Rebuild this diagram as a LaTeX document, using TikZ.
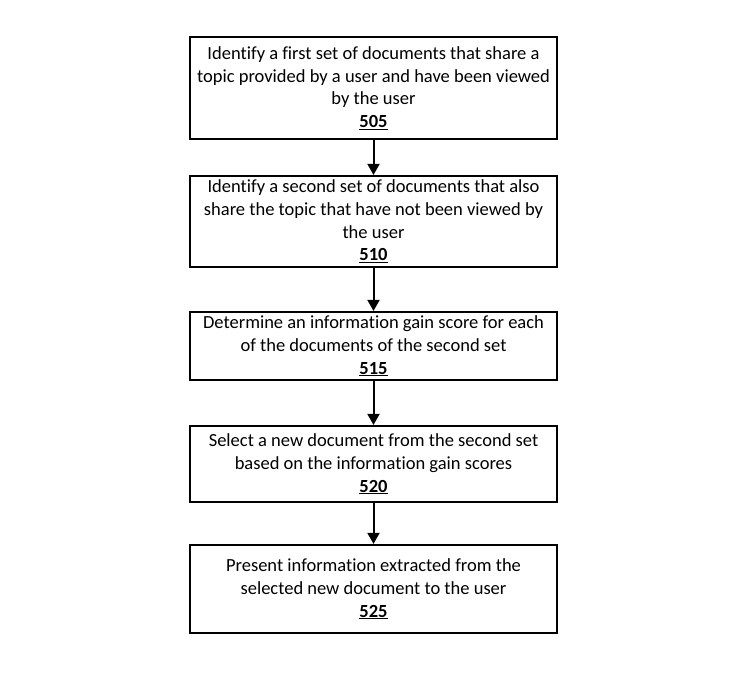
\documentclass[tikz,border=0pt]{standalone}
\usepackage{fontspec}
\setmainfont[Ligatures=NoCommon]{Carlito}
\usetikzlibrary{positioning}
\usetikzlibrary{arrows.meta}

\tikzset{stepbox/.style={draw,line width=2.2pt,minimum width=367pt,align=center,font=\fontsize{18.5}{22.7}\selectfont,inner sep=1pt},
 flow/.style={line width=2pt,-{Triangle[length=11pt,width=12pt]}}}

\begin{document}
\begin{tikzpicture}[x=1pt,y=-1pt]
 \useasboundingbox (0,0) rectangle (750,674);
 \node[stepbox,minimum height=102pt] (s505) at (373.5,88) {Identify a first set of documents that share a\\topic provided by a user and have been viewed\\by the user\\\underline{\textbf{505}}};
 \node[stepbox,minimum height=91pt] (s510) at (373.5,221.5) {Identify a second set of documents that also\\share the topic that have not been viewed by\\the user\\\underline{\textbf{510}}};
 \node[stepbox,minimum height=68pt] (s515) at (373.5,346) {Determine an information gain score for each\\of the documents of the second set\\\underline{\textbf{515}}};
 \node[stepbox,minimum height=76pt] (s520) at (373.5,464) {Select a new document from the second set\\based on the information gain scores\\\underline{\textbf{520}}};
 \node[stepbox,minimum height=88pt] (s525) at (373.5,589) {Present information extracted from the\\selected new document to the user\\\underline{\textbf{525}}};
 \draw[flow] (s505) -- (s510);
 \draw[flow] (s510) -- (s515);
 \draw[flow] (s515) -- (s520);
 \draw[flow] (s520) -- (s525);
\end{tikzpicture}
\end{document}
